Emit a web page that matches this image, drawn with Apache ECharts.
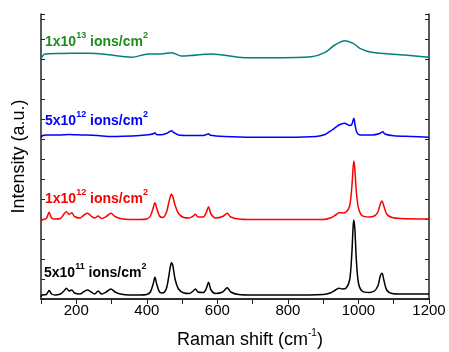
<!DOCTYPE html>
<html>
<head>
<meta charset="utf-8">
<script src="https://cdn.jsdelivr.net/npm/echarts@6/dist/echarts.min.js"></script>
<style>html,body{margin:0;padding:0;background:#fff}#c{width:449px;height:352px}</style>
</head>
<body>
<div id="c"></div>
<script>
// Raman shift (cm-1) vs intensity (arbitrary, stacked offsets)
const xTicks = [200, 400, 600, 800, 1000, 1200];

const s5e11 = [[100,2],[103,4],[115,4.5],[123,8.5],[130,5],[140,4],[155,5],[165,8],[172,10.7],[180,8],[187,9],[195,6],[210,5],[222,7.5],[232,9],[242,7],[252,5],[262,8],[272,5],[285,7],[298,10],[310,7],[325,5],[350,4],[380,4],[400,4.5],[410,7],[418,15],[423,21.7],[428,15],[436,7],[445,6],[455,10],[462,22],[467,33],[470,36.3],[474,33],[480,20],[490,10],[505,6],[520,5.5],[530,7.5],[538,10],[545,7],[560,6.5],[568,10],[575,16.7],[582,9],[595,5.5],[615,7],[628,11.3],[638,7],[660,4.5],[700,4],[800,4],[900,4.5],[920,6],[935,9],[945,10.7],[955,10],[965,11],[975,19],[981,44],[985,73],[987,79],[990,69],[994,39],[1000,16],[1010,8],[1030,6.5],[1045,8],[1055,13],[1062,23],[1067,25.7],[1072,19],[1080,9],[1095,5.5],[1120,5],[1200,5]];

const s1e12 = [[100,78],[105,79.5],[115,80.5],[123,86.7],[130,81],[140,80],[155,80.5],[165,85],[172,87.3],[180,84.5],[187,86.3],[195,82.5],[210,81],[222,84],[232,85.7],[242,83],[252,81],[262,83],[272,80.5],[285,82.5],[298,85.7],[310,82.5],[325,80.5],[350,79.5],[380,79.5],[400,80],[410,83],[418,91],[423,96.3],[428,91],[436,83],[445,81.5],[455,86],[462,96],[467,103],[470,105],[474,102],[480,94],[490,85.5],[505,81.5],[520,81],[530,82.5],[538,84.7],[545,82],[560,82],[568,86],[575,92.3],[582,85],[595,81],[615,82.5],[628,85.7],[638,82],[660,80],[700,79.5],[800,79.5],[900,79.5],[920,81],[935,84],[945,86.3],[955,86],[965,87],[975,93],[981,111],[985,132],[987,138],[990,129],[994,107],[1000,91],[1010,83.5],[1030,82],[1045,83],[1055,87],[1062,95],[1067,98],[1072,93],[1080,85],[1095,81.5],[1120,80.5],[1200,80]];

const s5e12 = [[100,161.5],[105,163.5],[115,164],[150,164],[180,164.5],[200,164.2],[230,164],[260,163.5],[300,162.5],[330,162.7],[380,163.5],[410,164.5],[420,165.5],[423,166.3],[427,164.5],[440,164.2],[455,165.5],[465,167.5],[470,168.3],[476,166.5],[490,164],[520,163.5],[560,163.5],[570,164.5],[575,165.2],[580,163.7],[620,162.5],[700,161.7],[800,161.7],[880,162.5],[905,164.5],[925,169],[945,174],[961,175.7],[975,173.5],[981,174.5],[985,179],[987,180.7],[990,175],[995,167],[1005,164],[1040,164],[1060,165.5],[1069,167.3],[1075,165],[1100,163.2],[1150,162.5],[1200,161.7]];

const s1e13 = [[100,239.7],[111,245],[150,245.5],[234,245.7],[281,244.7],[357,241.7],[404,245],[440,245],[471,246.3],[498,243],[523,243.5],[583,245],[678,241.3],[753,241.3],[867,242.3],[904,246.3],[933,254],[961,258.3],[985,255.7],[1004,250.7],[1037,246.7],[1131,244],[1200,241.7]];

const seriesNames = ['5x10^11', '1x10^12', '5x10^12', '1x10^13'];
const seriesColors = ['#000000', '#ff0000', '#0000ff', '#008080'];
const seriesData = [s5e11, s1e12, s5e12, s1e13];

const font = 'Arial, "Liberation Sans", sans-serif';
const chart = echarts.init(document.getElementById('c'));

function label(text, sup1, sup2, color, x, y) {
  return {
    type: 'text', left: x, top: y, z: 10,
    style: {
      text: '{n|' + text + '}{s|' + sup1 + '}{n| ions/cm}{s|' + sup2 + '}',
      rich: {
        n: {fontSize: 14, fontWeight: 'bold', fontFamily: font, fill: color, lineHeight: 22},
        s: {fontSize: 9, fontWeight: 'bold', fontFamily: font, fill: color, lineHeight: 8, verticalAlign: 'top'}
      }
    }
  };
}

const axLine = {show: true, lineStyle: {color: '#222', width: 1.5}};
chart.setOption({
  animation: false,
  grid: {left: 41, right: 20, top: 14, bottom: 53},
  xAxis: [{
    type: 'value', min: 100, max: 1200, interval: 100,
    axisLine: axLine,
    axisTick: {show: true, inside: false, length: 5, lineStyle: {color: '#222', width: 1}},
    axisLabel: {fontSize: 15, fontFamily: font, color: '#000', margin: 4,
      formatter: v => (xTicks.indexOf(v) >= 0 ? String(v) : '')},
    splitLine: {show: false}
  }, {
    type: 'value', position: 'top', min: 100, max: 1200, interval: 100,
    axisLine: axLine,
    axisTick: {show: true, inside: true, length: 4, lineStyle: {color: '#222', width: 1}},
    axisLabel: {show: false}, splitLine: {show: false}
  }],
  yAxis: [{
    type: 'value', min: 0, max: 285, interval: 20,
    axisLine: axLine,
    axisTick: {show: true, inside: true, length: 4, lineStyle: {color: '#222', width: 1}},
    axisLabel: {show: false}, splitLine: {show: false},
    name: 'Intensity (a.u.)', nameLocation: 'middle', nameGap: 13,
    nameTextStyle: {fontSize: 18, fontFamily: font, color: '#000'}
  }, {
    type: 'value', position: 'right', min: 0, max: 285, interval: 20,
    axisLine: axLine,
    axisTick: {show: true, inside: true, length: 4, lineStyle: {color: '#222', width: 1}},
    axisLabel: {show: false}, splitLine: {show: false}
  }],
  series: seriesData.map((d, i) => ({
    type: 'line', name: seriesNames[i], data: d, xAxisIndex: 0, yAxisIndex: 0,
    showSymbol: false, smooth: 0.3, lineStyle: {color: seriesColors[i], width: 1.5},
    itemStyle: {color: seriesColors[i]}
  })),
  graphic: [
    label('1x10', '13', '2', '#1e8c1e', 45, 31),
    label('5x10', '12', '2', '#0000ff', 45, 110),
    label('1x10', '12', '2', '#ff0000', 45, 188),
    label('5x10', '11', '2', '#000000', 44, 262),
    {
      type: 'text', left: 177, top: 328, z: 10,
      style: {
        text: '{n|Raman shift (cm}{s|-1}{n|)}',
        rich: {
          n: {fontSize: 18, fontFamily: font, fill: '#000', lineHeight: 24},
          s: {fontSize: 10, fontFamily: font, fill: '#000', lineHeight: 9, verticalAlign: 'top'}
        }
      }
    }
  ]
});
</script>
</body>
</html>
